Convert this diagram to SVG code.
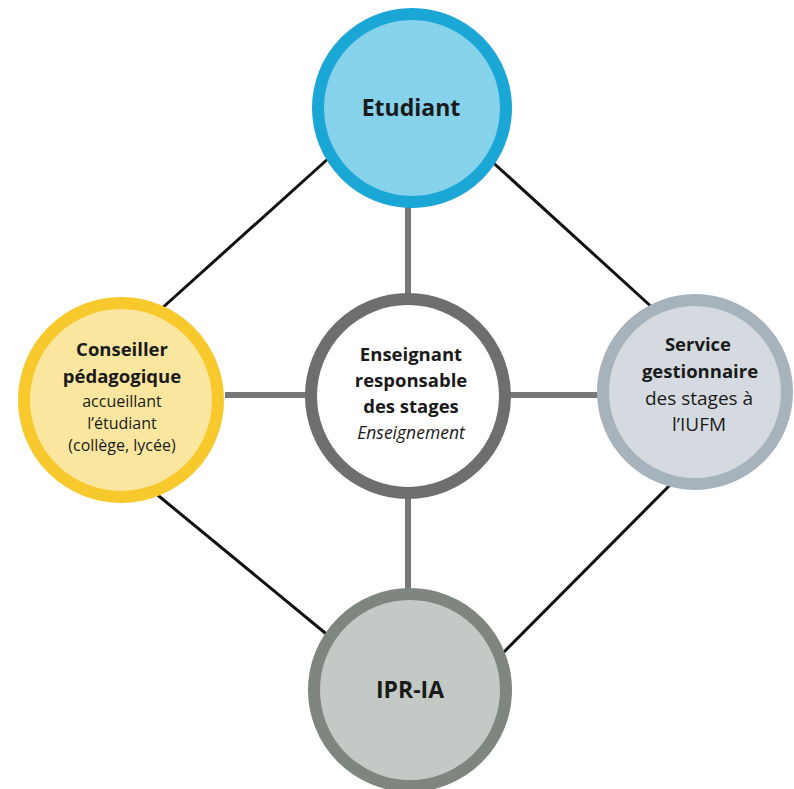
<svg xmlns="http://www.w3.org/2000/svg" width="794" height="789" viewBox="0 0 794 789">
<style>
.t{font-family:"Open Sans","Liberation Sans",sans-serif;fill:#1a1a1a;text-anchor:middle}
.b{font-weight:bold}
.big{font-size:23px}
.m{font-size:18.5px}
.s{font-size:16px}
.gray{stroke:#777;stroke-width:6;fill:none}
.blk{stroke:#111;stroke-width:3;fill:none}
</style>
<rect width="794" height="789" fill="#fff"/>
<g id="connectors">
<line class="gray" x1="408" y1="200" x2="408" y2="298"/>
<line class="gray" x1="408" y1="494" x2="408" y2="590"/>
<line class="gray" x1="225" y1="395" x2="308" y2="395"/>
<line class="gray" x1="509" y1="395" x2="600" y2="395"/>
<line class="blk" x1="330" y1="157" x2="160" y2="310"/>
<line class="blk" x1="487" y1="157" x2="655" y2="310"/>
<line class="blk" x1="143" y1="483" x2="330" y2="637"/>
<line class="blk" x1="670" y1="485" x2="503" y2="653"/>
</g>
<g id="etudiant">
<circle cx="412" cy="108" r="94" fill="#86d2eb" stroke="#1ba7d6" stroke-width="12"/>
<text class="t b big" x="411" y="116">Etudiant</text>
</g>
<g id="conseiller">
<circle cx="121" cy="400" r="97" fill="#fbe6a0" stroke="#f8c92c" stroke-width="12"/>
<text class="t b m" x="122" y="356">Conseiller</text>
<text class="t b m" x="122" y="383">pédagogique</text>
<text class="t s" x="122" y="407">accueillant</text>
<text class="t s" x="122" y="429">l’étudiant</text>
<text class="t s" x="122" y="451">(collège, lycée)</text>
</g>
<g id="enseignant">
<circle cx="408" cy="396" r="97" fill="#fff" stroke="#6e6e6e" stroke-width="12"/>
<text class="t b m" x="411" y="361">Enseignant</text>
<text class="t b m" x="411" y="387">responsable</text>
<text class="t b m" x="411" y="413">des stages</text>
<text class="t" x="411" y="439" font-size="17.5" font-style="italic">Enseignement</text>
</g>
<g id="service">
<circle cx="695" cy="392" r="92" fill="#d5dae0" stroke="#a6b2bc" stroke-width="12"/>
<text class="t b m" x="698" y="351">Service</text>
<text class="t b m" x="700" y="378">gestionnaire</text>
<text class="t" x="699" y="405" font-size="19">des stages à</text>
<text class="t" x="699" y="431" font-size="19">l’IUFM</text>
</g>
<g id="ipr">
<circle cx="410" cy="690" r="96" fill="#c3c9c4" stroke="#7e867f" stroke-width="12"/>
<text class="t b big" x="410" y="698">IPR-IA</text>
</g>
</svg>
